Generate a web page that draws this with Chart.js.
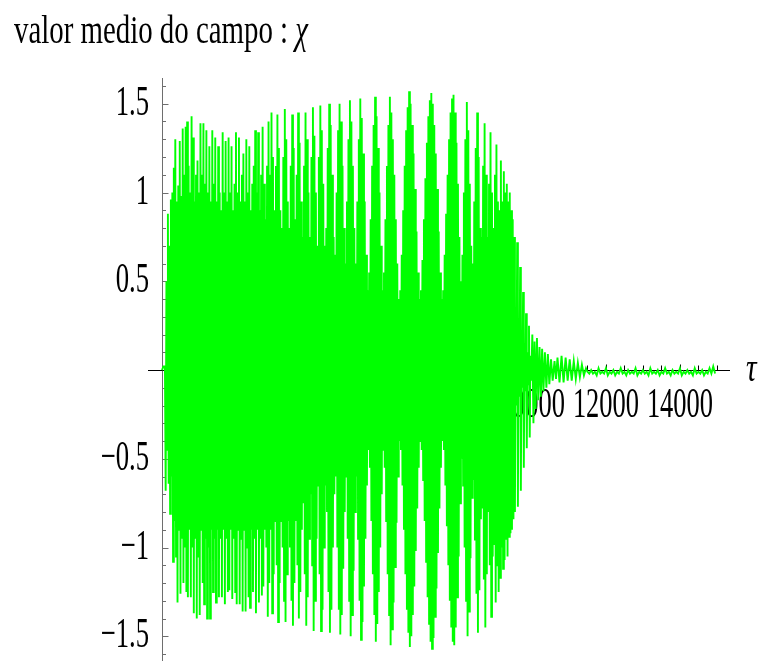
<!DOCTYPE html>
<html>
<head>
<meta charset="utf-8">
<title>valor medio do campo</title>
<script src="https://cdn.jsdelivr.net/npm/chart.js@4.4.1/dist/chart.umd.min.js"></script>
<style>
  body { margin: 0; background: #fff; }
  canvas { display: block; }
</style>
</head>
<body>
<canvas id="chiChart" width="760" height="661"></canvas>
<script>
// mean field value chi(tau): one upper and one lower sample per step (values x100)
const tauStart = 80;
const tauStep = 40;
const chiUpper = [
    2, 50, 88, 70, 96, 100, 114, 130, 95, 104,
    129, 98, 136, 110, 137, 140, 115, 100, 143, 131,
    95, 110, 118, 100, 139, 110, 139, 105, 135, 100,
    126, 95, 135, 105, 131, 95, 126, 100, 90, 134,
    100, 129, 95, 131, 100, 126, 90, 105, 134, 100,
    131, 95, 110, 122, 95, 130, 100, 126, 90, 105,
    115, 135, 100, 134, 90, 110, 137, 105, 85, 115,
    140, 110, 145, 120, 90, 115, 144, 125, 90, 80,
    120, 147, 130, 95, 80, 115, 144, 125, 85, 110,
    145, 128, 95, 75, 115, 145, 130, 100, 75, 120,
    148, 132, 100, 70, 120, 149, 135, 105, 70, 80,
    125, 150, 138, 110, 75, 65, 100, 135, 150, 140,
    115, 80, 60, 95, 130, 152, 140, 115, 80, 60,
    95, 130, 153, 142, 122, 95, 65, 45, 55, 85,
    115, 138, 154, 143, 125, 100, 70, 45, 55, 85,
    115, 138, 154, 145, 130, 110, 85, 60, 40, 45,
    65, 90, 115, 135, 148, 157, 150, 138, 122, 102,
    78, 55, 40, 45, 62, 85, 108, 128, 143, 152,
    156, 150, 138, 122, 102, 78, 55, 40, 45, 65,
    88, 110, 130, 145, 153, 155, 145, 128, 105, 75,
    50, 65, 100, 130, 151, 135, 105, 70, 60, 95,
    125, 145, 120, 80, 75, 115, 139, 110, 75, 105,
    134, 100, 80, 110, 127, 95, 90, 118, 95, 112,
    100, 105, 95, 100, 90, 85, 75, 30, 72, 25,
    58, 20, 44, 15, 32, 10, 25, 8
];
const chiLower = [
    -68, -45, -64, -81, -60, -108, -85, -105, -131, -90,
    -126, -95, -120, -100, -125, -128, -90, -128, -100, -137,
    -95, -140, -105, -138, -90, -120, -132, -95, -140, -100,
    -140, -90, -125, -95, -131, -90, -128, -95, -128, -90,
    -132, -95, -125, -124, -90, -129, -95, -125, -132, -90,
    -132, -95, -136, -90, -136, -100, -128, -134, -90, -125,
    -95, -137, -90, -131, -95, -127, -122, -90, -100, -139,
    -120, -90, -137, -115, -85, -110, -142, -120, -85, -100,
    -130, -142, -115, -85, -100, -130, -144, -120, -85, -110,
    -140, -125, -90, -75, -115, -144, -128, -95, -70, -110,
    -147, -130, -95, -65, -115, -147, -135, -100, -65, -80,
    -125, -148, -135, -100, -70, -60, -100, -135, -149, -138,
    -112, -80, -60, -95, -130, -150, -138, -113, -80, -60,
    -95, -130, -152, -142, -122, -95, -65, -45, -55, -85,
    -115, -138, -153, -143, -125, -100, -70, -45, -55, -85,
    -115, -138, -155, -146, -131, -111, -86, -60, -40, -45,
    -65, -90, -115, -135, -148, -156, -150, -138, -122, -102,
    -78, -55, -40, -45, -62, -85, -108, -128, -143, -153,
    -157, -151, -139, -123, -103, -78, -55, -40, -45, -65,
    -88, -110, -130, -145, -153, -155, -145, -128, -105, -75,
    -50, -65, -100, -130, -150, -136, -106, -72, -62, -96,
    -126, -148, -124, -84, -78, -118, -145, -115, -80, -110,
    -139, -105, -98, -131, -110, -125, -117, -100, -112, -107,
    -95, -105, -94, -92, -90, -84, -80, -20, -77, -15,
    -68, -10, -55, -12, -44, -8, -38, -6
];

// ringing after the collapse
const ringTau = [10010, 10040, 10070, 10100, 10135, 10170, 10205, 10240, 10275, 10310,
    10350, 10390, 10430, 10470, 10515, 10560, 10610, 10650,
    10690, 10745, 10800, 10855, 10910, 10965, 11020, 11075, 11130, 11185,
    11240, 11295, 11350, 11405, 11460];
const ringChi = [0.20, -0.30, 0.16, -0.22, 0.18, -0.17, 0.13, -0.15, 0.12, -0.12,
    0.10, -0.10, 0.09, -0.08, 0.06, -0.06, 0.05, -0.05,
    0.07, -0.07, 0.08, -0.07, 0.07, -0.06, 0.06, -0.06, 0.05, -0.05,
    0.04, -0.04, 0.03, -0.03, 0.01];

// residual noise up to the end of the run
const noiseStart = 11500;
const noiseStep = 50;
const noiseChi = [
    -0.01, -0.02, 0.00, -0.02, -0.01, -0.03, 0.01, -0.02, -0.01, -0.02,
    0.01, -0.03, -0.01, -0.02, 0.00, -0.03, -0.01, -0.02, 0.01, -0.02,
    -0.01, -0.03, 0.00, -0.02, -0.01, -0.02, 0.01, -0.03, -0.01, -0.02,
    0.00, -0.02, -0.01, -0.03, 0.01, -0.02, -0.01, -0.02, 0.00, -0.03,
    -0.01, -0.02, 0.01, -0.02, -0.01, -0.03, 0.00, -0.02, -0.01, -0.02,
    0.01, -0.03, -0.01, -0.02, 0.00, -0.02, -0.01, -0.03, 0.01, -0.02,
    -0.01, -0.02, 0.00, -0.03, -0.01, -0.02, 0.01, -0.02, 0.02, -0.02
];

// axes
const yTicks = [-1.5, -1, -0.5, 0.5, 1, 1.5];
const yTickLabels = ['\u22121.5', '\u22121', '\u22120.5', '0.5', '1', '1.5'];
const xTicks = [2000, 4000, 6000, 8000, 10000, 12000, 14000];
const xTickLabels = ['2000', '4000', '6000', '8000', '10000', '12000', '14000'];

const points = [{x: 0, y: 0}, {x: 40, y: 0.02}];
chiUpper.forEach(function(v, i) {
    const t = tauStart + i * tauStep;
    points.push({x: t, y: v / 100});
    points.push({x: t + tauStep / 2, y: chiLower[i] / 100});
});
ringTau.forEach(function(t, i) {
    points.push({x: t, y: ringChi[i]});
});
noiseChi.forEach(function(v, i) {
    points.push({x: noiseStart + i * noiseStep, y: v});
});

// squeezed serif text, the way the labels are set
function condensedText(ctx, text, x, y, size, sx, align, italic) {
    ctx.save();
    ctx.translate(x, y);
    ctx.scale(sx, 1);
    ctx.font = (italic ? 'italic ' : '') + size + 'px "Liberation Serif", "Times New Roman", serif';
    ctx.textAlign = align;
    ctx.textBaseline = 'alphabetic';
    ctx.fillStyle = '#000';
    ctx.fillText(text, 0, 0);
    ctx.restore();
}

const crossedAxes = {
    id: 'crossedAxes',
    beforeDatasetsDraw(chart) {
        const {ctx, chartArea, scales: {x, y}} = chart;
        const x0 = Math.round(x.getPixelForValue(0)) + 0.5;
        const y0 = Math.round(y.getPixelForValue(0)) + 0.5;
        ctx.save();
        ctx.lineWidth = 1;

        // vertical axis with 0.1 minor ticks
        ctx.strokeStyle = '#6e6e6e';
        ctx.beginPath();
        ctx.moveTo(x0, chartArea.top);
        ctx.lineTo(x0, chartArea.bottom);
        for (let k = -16; k <= 16; k++) {
            if (k === 0) continue;
            const py = Math.round(y.getPixelForValue(k / 10)) + 0.5;
            ctx.moveTo(x0, py);
            ctx.lineTo(x0 + (k % 5 === 0 ? 6 : 3.5), py);
        }
        ctx.stroke();

        // horizontal axis, ticks every 500 pointing up
        ctx.strokeStyle = '#000';
        ctx.beginPath();
        ctx.moveTo(chartArea.left, y0);
        ctx.lineTo(chartArea.right, y0);
        for (let t = 500; t <= 15000; t += 500) {
            const px = Math.round(x.getPixelForValue(t)) + 0.5;
            ctx.moveTo(px, y0);
            ctx.lineTo(px, y0 - (t % 2000 === 0 ? 6 : 5));
        }
        ctx.stroke();
        ctx.restore();

        yTicks.forEach(function(v, i) {
            condensedText(ctx, yTickLabels[i], 149, y.getPixelForValue(v) + 11, 43, 0.62, 'right');
        });
        xTicks.forEach(function(v, i) {
            condensedText(ctx, xTickLabels[i], x.getPixelForValue(v), y0 + 46, 43, 0.615, 'center');
        });
    },
    afterDraw(chart) {
        const ctx = chart.ctx;
        condensedText(ctx, 'valor medio do campo : ', 14, 43, 39, 0.74, 'left');
        ctx.save();
        ctx.font = '39px "Liberation Serif", serif';
        const w = ctx.measureText('valor medio do campo : ').width * 0.74;
        ctx.restore();
        condensedText(ctx, '\u03c7', 14 + w, 43, 39, 0.74, 'left', true);
        condensedText(ctx, '\u03c4', 746, 381, 42, 0.7, 'left', true);
    }
};

new Chart(document.getElementById('chiChart'), {
    type: 'scatter',
    data: {
        datasets: [{
            data: points,
            showLine: true,
            borderColor: '#00ff00',
            borderWidth: 1.9,
            pointRadius: 0,
            tension: 0
        }]
    },
    options: {
        responsive: false,
        animation: false,
        events: [],
        layout: {
            padding: {left: 148, right: 30, top: 78, bottom: 0}
        },
        scales: {
            x: {type: 'linear', display: false, min: -378, max: 15353},
            y: {type: 'linear', display: false, min: -1.639, max: 1.645}
        },
        plugins: {
            legend: {display: false},
            tooltip: {enabled: false}
        }
    },
    plugins: [crossedAxes]
});
</script>
</body>
</html>
